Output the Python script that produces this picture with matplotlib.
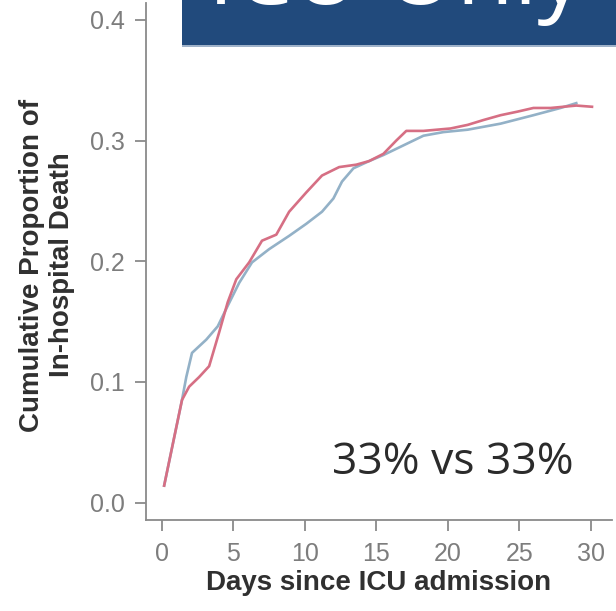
"""
ICU-only cumulative in-hospital death curves (two groups, 33% vs 33%).
Writes out.png (616x611).
"""
import matplotlib
matplotlib.use("Agg")
import matplotlib.pyplot as plt
from matplotlib.patches import Rectangle

# curve values
red_days = [0.15, 1.4, 1.9, 2.6, 3.3, 4.0, 4.6, 5.2, 6.1, 7.0, 8.0, 8.9, 10.1,
            11.2, 12.4, 13.6, 14.5, 15.5, 16.4, 17.1, 18.3, 20.2, 21.4, 22.5,
            23.7, 24.9, 26.0, 27.2, 29.0, 30.1]
red_prop = [0.014, 0.085, 0.096, 0.104, 0.113, 0.141, 0.166, 0.185, 0.199,
            0.217, 0.222, 0.241, 0.257, 0.271, 0.278, 0.280, 0.283, 0.289,
            0.300, 0.308, 0.308, 0.310, 0.313, 0.317, 0.321, 0.324, 0.327,
            0.327, 0.329, 0.328]

blue_days = [0.15, 1.4, 1.7, 2.1, 3.1, 3.9, 4.6, 5.4, 6.3, 7.5, 8.9, 10.1,
             11.2, 12.0, 12.6, 13.4, 14.5, 15.5, 16.9, 18.3, 19.7, 21.4, 23.7,
             26.0, 27.9, 29.0]
blue_prop = [0.014, 0.085, 0.104, 0.124, 0.135, 0.146, 0.163, 0.182, 0.199,
             0.210, 0.221, 0.231, 0.241, 0.252, 0.266, 0.277, 0.283, 0.288,
             0.296, 0.304, 0.307, 0.309, 0.314, 0.321, 0.327, 0.331]

x_ticks = [0, 5, 10, 15, 20, 25, 30]
y_ticks = [0.0, 0.1, 0.2, 0.3, 0.4]
y_tick_labels = ["0.0", "0.1", "0.2", "0.3", "0.4"]

RED = "#d66f84"
BLUE = "#93b1c7"
AXIS = "#8a8a8a"
TICK_TXT = "#7d7d7d"
LABEL = "#303030"
BANNER = "#214a7c"

W, H = 616, 611
fig = plt.figure(figsize=(W / 100, H / 100), dpi=100)
ax = fig.add_axes([146 / W, 1 - 520 / H, (612 - 146) / W, (520 - 3) / H])

ax.plot(blue_days, blue_prop, color=BLUE, lw=1.9, solid_joinstyle="round")
ax.plot(red_days, red_prop, color=RED, lw=1.9, solid_joinstyle="round")

ax.set_xlim(-1.12, 31.5)
ax.set_ylim(-0.0145, 0.414)
ax.set_xticks(x_ticks)
ax.set_yticks(y_ticks)
ax.set_yticklabels(y_tick_labels)
for sp in ("top", "right"):
    ax.spines[sp].set_visible(False)
for sp in ("left", "bottom"):
    ax.spines[sp].set_color(AXIS)
    ax.spines[sp].set_linewidth(1.3)
ax.tick_params(axis="both", direction="out", length=8, width=1.3,
               color=AXIS, labelcolor=TICK_TXT, labelsize=18)
ax.tick_params(axis="y", pad=7)
ax.tick_params(axis="x", pad=8)

ax.set_xlabel("Days since ICU admission", fontsize=20, fontweight="bold",
              color=LABEL, family="Liberation Sans", labelpad=3)
fig.text(47 / W, 1 - 265 / H, "Cumulative Proportion of\nIn-hospital Death",
         rotation=90, ha="center", va="center", fontsize=20,
         fontweight="bold", color=LABEL, family="Liberation Sans",
         linespacing=1.2)
for lab in ax.get_xticklabels() + ax.get_yticklabels():
    lab.set_family("Liberation Sans")

ax.text(11.9, 0.024, "33% vs 33%", fontsize=32, color="#2b2b2b",
        family="Open Sans", ha="left", va="baseline")

# banner at top (title text cut off by the figure edge)
fig.patches.append(Rectangle((182 / W, 1 - 45 / H), 1 - 182 / W, 45 / H,
                             transform=fig.transFigure, facecolor=BANNER,
                             edgecolor="none", zorder=5))
fig.patches.append(Rectangle((182 / W, 1 - 46.5 / H), 1 - 182 / W, 1.5 / H,
                             transform=fig.transFigure, facecolor="#9fb2c9",
                             edgecolor="none", zorder=5))
fig.text(208 / W, 1 - 4 / H, "ICU Only", fontsize=67, color="white",
         family="Open Sans", ha="left", va="baseline", zorder=6)

fig.savefig("out.png", dpi=100)
